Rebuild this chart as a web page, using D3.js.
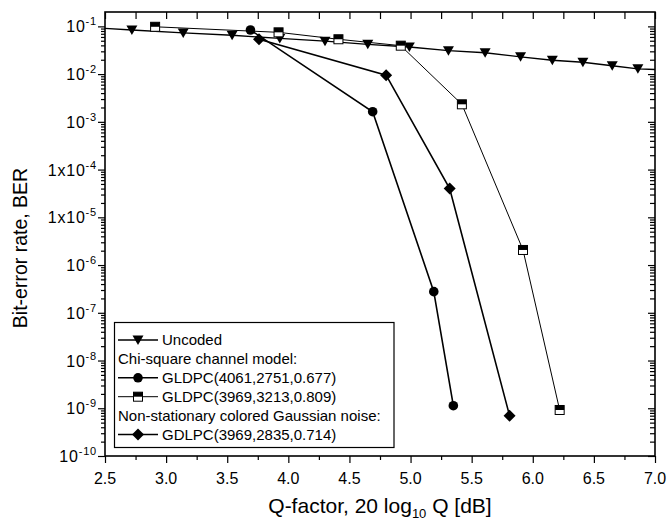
<!DOCTYPE html>
<html>
<head>
<meta charset="utf-8">
<script src="https://cdn.jsdelivr.net/npm/d3@7"></script>
<style>
  html, body { margin: 0; padding: 0; background: #fff; }
  svg { display: block; font-family: "Liberation Sans", Arial, sans-serif; }
</style>
</head>
<body>
<svg id="chart" width="668" height="525"></svg>
<script>
// ---- data ----
const xTicks = [2.5, 3.0, 3.5, 4.0, 4.5, 5.0, 5.5, 6.0, 6.5, 7.0];
const xTickLabels = ["2.5", "3.0", "3.5", "4.0", "4.5", "5.0", "5.5", "6.0", "6.5", "7.0"];
const yTickExps = [-1, -2, -3, -4, -5, -6, -7, -8, -9, -10];
const yTickPrefix = ["", "", "", "1x", "1x", "", "", "", "", ""];

const uncodedX = [2.72, 3.14, 3.54, 3.93, 4.30, 4.65, 4.99, 5.31, 5.61, 5.90, 6.16, 6.41, 6.65, 6.86];
const uncodedBER = [0.084, 0.073, 0.065, 0.056, 0.049, 0.042, 0.037, 0.031, 0.028, 0.023, 0.0195, 0.0177, 0.015, 0.0129];
const uncodedEdgeX = [2.5, 7.0];
const uncodedEdgeBER = [0.091, 0.0125];

const gl4061X = [3.69, 4.69, 5.19, 5.35];
const gl4061BER = [0.084, 1.63e-3, 2.77e-7, 1.13e-9];

const gl3969X = [2.91, 3.92, 4.41, 4.92, 5.42, 5.92, 6.22];
const gl3969BER = [0.098, 0.075, 0.0537, 0.0394, 2.33e-3, 2.07e-6, 9.2e-10];

const gd3969X = [3.76, 4.80, 5.32, 5.81];
const gd3969BER = [0.0537, 9.5e-3, 4.0e-5, 7.0e-10];

const legendItems = [
  { label: "Uncoded", marker: "tri", lw: 1.4 },
  { label: "Chi-square channel model:", marker: null },
  { label: "GLDPC(4061,2751,0.677)", marker: "circle", lw: 1.6 },
  { label: "GLDPC(3969,3213,0.809)", marker: "square", lw: 1 },
  { label: "Non-stationary colored Gaussian noise:", marker: null },
  { label: "GDLPC(3969,2835,0.714)", marker: "diamond", lw: 1.6 }
];

// ---- layout ----
const L = 105, R = 655, T = 12, B = 456;
const svg = d3.select("#chart");
const x = d3.scaleLinear().domain([2.5, 7.0]).range([L, R]);
const y = d3.scaleLog().domain([1e-10, 0.2]).range([B, T]);

// minor values
const minorY = [];
for (let e = -10; e <= -1; e++) for (let m = 2; m <= 9; m++) { const v = m * Math.pow(10, e); if (v < 0.2) minorY.push(v); }
const majorY = yTickExps.map(e => Math.pow(10, e));
const minorX = d3.range(2.75, 7.0, 0.5);
const allX = d3.range(0, 19).map(i => 2.5 + i * 0.25);

// axes
svg.append("g").attr("transform", `translate(0,${B})`)
  .call(d3.axisBottom(x).tickValues(xTicks).tickFormat("").tickSize(7).tickSizeOuter(0))
  .call(g => g.select(".domain").remove());
svg.append("g").attr("transform", `translate(0,${B})`)
  .call(d3.axisBottom(x).tickValues(minorX).tickFormat("").tickSize(4).tickSizeOuter(0))
  .call(g => g.select(".domain").remove());
svg.append("g").attr("transform", `translate(0,${T})`)
  .call(d3.axisBottom(x).tickValues(allX).tickFormat("").tickSize(7).tickSizeOuter(0))
  .call(g => g.select(".domain").remove());
svg.append("g").attr("transform", `translate(${L},0)`)
  .call(d3.axisLeft(y).tickValues(majorY).tickFormat("").tickSize(7).tickSizeOuter(0))
  .call(g => g.select(".domain").remove());
svg.append("g").attr("transform", `translate(${L},0)`)
  .call(d3.axisLeft(y).tickValues(minorY).tickFormat("").tickSize(4).tickSizeOuter(0))
  .call(g => g.select(".domain").remove());
svg.append("g").attr("transform", `translate(${R},0)`)
  .call(d3.axisLeft(y).tickValues(majorY).tickFormat("").tickSize(7).tickSizeOuter(0))
  .call(g => g.select(".domain").remove());
svg.append("g").attr("transform", `translate(${R},0)`)
  .call(d3.axisLeft(y).tickValues(minorY).tickFormat("").tickSize(5).tickSizeOuter(0))
  .call(g => g.select(".domain").remove());
svg.selectAll(".tick line").attr("stroke", "#000").attr("stroke-width", 1.2);

svg.append("rect").attr("x", L).attr("y", T).attr("width", R - L).attr("height", B - T)
  .attr("fill", "none").attr("stroke", "#000").attr("stroke-width", 1.6);

// tick labels
svg.append("g").selectAll("text").data(xTicks).join("text")
  .attr("x", d => x(d)).attr("y", 484).attr("text-anchor", "middle")
  .attr("font-size", 16).text((d, i) => xTickLabels[i]);

const yl = svg.append("g").selectAll("text").data(yTickExps).join("text")
  .attr("x", 97).attr("y", d => y(Math.pow(10, d)) + 6).attr("text-anchor", "end")
  .attr("font-size", 16).attr("letter-spacing", 0.8);
yl.append("tspan").text((d, i) => yTickPrefix[i] + "10");
yl.append("tspan").attr("font-size", 11).attr("dy", -7).text(d => "" + d);

// axis titles
const xt = svg.append("text").attr("x", (L + R) / 2).attr("y", 513).attr("text-anchor", "middle").attr("font-size", 21);
xt.append("tspan").text("Q-factor, 20 log");
xt.append("tspan").attr("font-size", 13).attr("dy", 5).text("10");
xt.append("tspan").attr("dy", -5).text(" Q [dB]");

svg.append("text").attr("transform", `translate(27,248) rotate(-90)`).attr("text-anchor", "middle")
  .attr("font-size", 19.5).text("Bit-error rate, BER");

// markers
function drawMarker(g, type, cx, cy) {
  if (type === "tri") {
    g.append("path").attr("d", `M${cx - 5.5},${cy - 4.5}L${cx + 5.5},${cy - 4.5}L${cx},${cy + 5}Z`).attr("fill", "#000");
  } else if (type === "circle") {
    g.append("circle").attr("cx", cx).attr("cy", cy).attr("r", 4.8).attr("fill", "#000");
  } else if (type === "diamond") {
    g.append("path").attr("d", `M${cx},${cy - 6}L${cx + 6},${cy}L${cx},${cy + 6}L${cx - 6},${cy}Z`).attr("fill", "#000");
  } else if (type === "square") {
    g.append("rect").attr("x", cx - 4.5).attr("y", cy - 4.5).attr("width", 9).attr("height", 9)
      .attr("fill", "#fff").attr("stroke", "#000").attr("stroke-width", 1);
    g.append("rect").attr("x", cx - 4.5).attr("y", cy - 4.5).attr("width", 9).attr("height", 4.5).attr("fill", "#000");
  }
}

const line = d3.line().x(d => x(d[0])).y(d => y(d[1]));
const plot = svg.append("g");

function series(xs, ys, type, lw, extraLine) {
  const pts = xs.map((v, i) => [v, ys[i]]);
  const lp = extraLine ? [extraLine[0], ...pts, extraLine[1]] : pts;
  plot.append("path").attr("d", line(lp)).attr("fill", "none").attr("stroke", "#000").attr("stroke-width", lw);
  pts.forEach(p => drawMarker(plot, type, x(p[0]), y(p[1])));
}

series(uncodedX, uncodedBER, "tri", 1.4, [[uncodedEdgeX[0], uncodedEdgeBER[0]], [uncodedEdgeX[1], uncodedEdgeBER[1]]]);
series(gl3969X, gl3969BER, "square", 1.0);
series(gl4061X, gl4061BER, "circle", 1.6);
series(gd3969X, gd3969BER, "diamond", 1.6);

// legend
const lg = svg.append("g");
lg.append("rect").attr("x", 114.5).attr("y", 322.5).attr("width", 279.5).attr("height", 125)
  .attr("fill", "#fff").attr("stroke", "#000").attr("stroke-width", 1.2);
legendItems.forEach((it, i) => {
  const by = 345 + i * 18.9;
  if (it.marker) {
    lg.append("line").attr("x1", 118).attr("x2", 158).attr("y1", by - 5).attr("y2", by - 5)
      .attr("stroke", "#000").attr("stroke-width", it.lw);
    drawMarker(lg, it.marker, 138, by - 5);
    lg.append("text").attr("x", 162).attr("y", by).attr("font-size", 15).text(it.label);
  } else {
    lg.append("text").attr("x", 118).attr("y", by).attr("font-size", 15).text(it.label);
  }
});
</script>
</body>
</html>
